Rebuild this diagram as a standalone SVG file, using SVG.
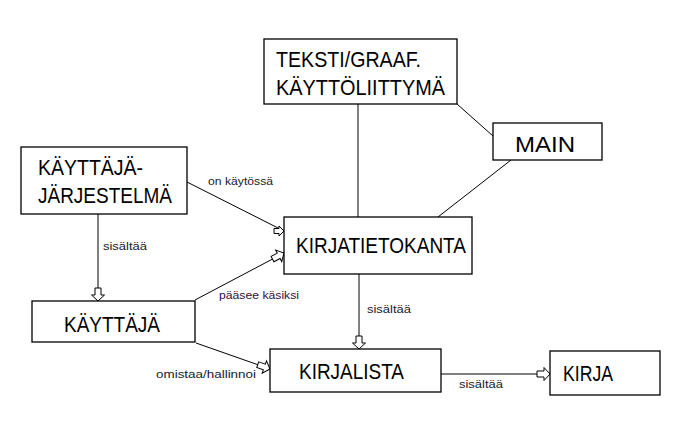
<svg xmlns="http://www.w3.org/2000/svg" width="682" height="433" viewBox="0 0 682 433">
<style>
.box{fill:#fff;stroke:#000;stroke-width:1.3}
.big{font-family:"Liberation Sans",Arial,sans-serif;font-size:22px;fill:#000}
.lbl{font-family:"Liberation Sans",Arial,sans-serif;font-size:11.5px;fill:#1a1a2a}
.ln{stroke:#000;stroke-width:1;fill:none}
</style>
<defs>
<marker id="ar" markerUnits="userSpaceOnUse" markerWidth="18" markerHeight="18" viewBox="-1 -9 16 18" refX="13" refY="0" orient="auto">
<path d="M0,-3 L7,-3 L7,-6.5 L13,0 L7,6.5 L7,3 L0,3 Z" fill="#fff" stroke="#000" stroke-width="1"/>
</marker>
<marker id="arh" markerUnits="userSpaceOnUse" markerWidth="16" markerHeight="16" viewBox="-1 -8 15 16" refX="11" refY="0" orient="0">
<path d="M1,-2.5 L6,-2.5 L6,-5 L11,0 L6,5 L6,2.5 L1,2.5 Z" fill="#fff" stroke="#000" stroke-width="1"/>
</marker>
</defs>
<rect width="682" height="433" fill="#fff"/>
<g id="connectors">
<line class="ln" x1="358" y1="104" x2="358" y2="217"/>
<line class="ln" x1="457" y1="104" x2="493" y2="136"/>
<line class="ln" x1="511" y1="160" x2="438" y2="217"/>
<line class="ln" x1="187" y1="182" x2="284" y2="231" marker-end="url(#arh)"/>
<line class="ln" x1="98" y1="214" x2="98" y2="301" marker-end="url(#ar)"/>
<line class="ln" x1="195" y1="300" x2="284" y2="253" marker-end="url(#ar)"/>
<line class="ln" x1="196" y1="343" x2="270" y2="369" marker-end="url(#ar)"/>
<line class="ln" x1="359" y1="274" x2="359" y2="349" marker-end="url(#ar)"/>
<line class="ln" x1="441" y1="374" x2="550" y2="374" marker-end="url(#ar)"/>
<text class="lbl" x="208" y="185" textLength="65" lengthAdjust="spacingAndGlyphs">on käytössä</text>
<text class="lbl" x="103" y="250" textLength="44" lengthAdjust="spacingAndGlyphs">sisältää</text>
<text class="lbl" x="219" y="299" textLength="80" lengthAdjust="spacingAndGlyphs" style="fill:#301040">pääsee käsiksi</text>
<text class="lbl" x="156" y="378" textLength="100" lengthAdjust="spacingAndGlyphs">omistaa/hallinnoi</text>
<text class="lbl" x="367" y="313" textLength="44" lengthAdjust="spacingAndGlyphs">sisältää</text>
<text class="lbl" x="459" y="388" textLength="44" lengthAdjust="spacingAndGlyphs">sisältää</text>
</g>
<g id="tekstigraaf">
<rect class="box" x="264" y="39" width="193" height="65"/>
<text class="big" x="276" y="67" textLength="145" lengthAdjust="spacingAndGlyphs">TEKSTI/GRAAF.</text>
<text class="big" x="276" y="95" textLength="169" lengthAdjust="spacingAndGlyphs">KÄYTTÖLIITTYMÄ</text>
</g>
<g id="main">
<rect class="box" x="493" y="123" width="109" height="37"/>
<text class="big" x="515" y="152" textLength="60" lengthAdjust="spacingAndGlyphs">MAIN</text>
</g>
<g id="kayttajajarjestelma">
<rect class="box" x="21" y="147" width="166" height="67"/>
<text class="big" x="38" y="175" textLength="105" lengthAdjust="spacingAndGlyphs">KÄYTTÄJÄ-</text>
<text class="big" x="38" y="203" textLength="134" lengthAdjust="spacingAndGlyphs">JÄRJESTELMÄ</text>
</g>
<g id="kirjatietokanta">
<rect class="box" x="284" y="217" width="188" height="57"/>
<text class="big" x="296" y="253" textLength="170" lengthAdjust="spacingAndGlyphs">KIRJATIETOKANTA</text>
</g>
<g id="kayttaja">
<rect class="box" x="32" y="301" width="163" height="41"/>
<text class="big" x="64" y="332" textLength="96" lengthAdjust="spacingAndGlyphs">KÄYTTÄJÄ</text>
</g>
<g id="kirjalista">
<rect class="box" x="270" y="349" width="171" height="43"/>
<text class="big" x="299" y="379" textLength="105" lengthAdjust="spacingAndGlyphs">KIRJALISTA</text>
</g>
<g id="kirja">
<rect class="box" x="550" y="351" width="110" height="44"/>
<text class="big" x="563" y="381" textLength="50" lengthAdjust="spacingAndGlyphs">KIRJA</text>
</g>
</svg>
